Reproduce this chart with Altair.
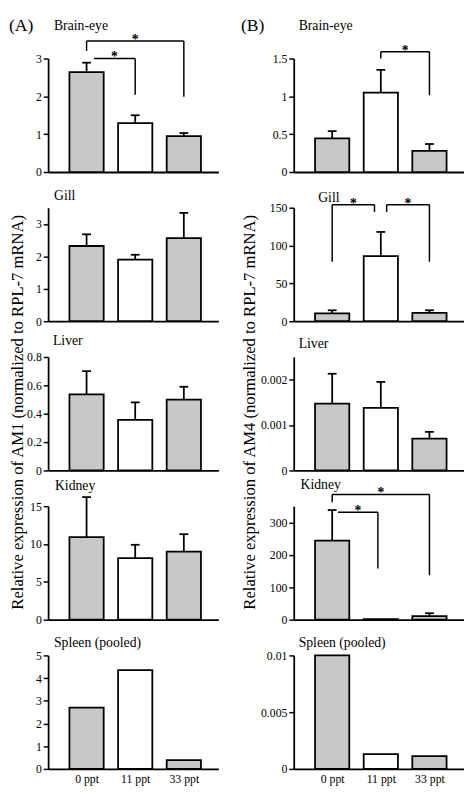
import json
import altair as alt
import pandas as pd

SERIF = "Liberation Serif"

# ---------------- data ----------------
groups = ["0 ppt", "11 ppt", "33 ppt"]
group_pos = [0, 1, 2]
bar_fill = ["#c8c8c8", "#ffffff", "#c8c8c8"]
tissues = ["Brain-eye", "Gill", "Liver", "Kidney", "Spleen (pooled)"]

am1_mean = [
    [2.64, 1.29, 0.95],
    [2.32, 1.90, 2.56],
    [0.536, 0.357, 0.500],
    [10.9, 8.15, 9.0],
    [2.70, 4.35, 0.39],
]
am1_sem = [
    [0.25, 0.21, 0.08],
    [0.36, 0.15, 0.78],
    [0.164, 0.123, 0.090],
    [5.3, 1.75, 2.3],
    None,
]
am1_axis_max = [3, 3.5, 0.8, 15, 5]
am1_ticks = [[0, 1, 2, 3], [0, 1, 2, 3], [0, 0.2, 0.4, 0.6, 0.8],
             [0, 5, 10, 15], [0, 1, 2, 3, 4, 5]]

am4_mean = [
    [0.445, 1.05, 0.28],
    [10.5, 86.0, 11.0],
    [0.00147, 0.00138, 0.00070],
    [244, 1.5, 11],
    [0.0100, 0.00131, 0.00112],
]
am4_sem = [
    [0.095, 0.30, 0.09],
    [4.0, 32.0, 3.5],
    [0.00066, 0.00057, 0.00015],
    [94, 0.0, 9],
    None,
]
am4_axis_max = [1.5, 150, 0.0025, 350, 0.01]
am4_ticks = [[0, 0.5, 1, 1.5], [0, 50, 100, 150], [0, 0.001, 0.002],
             [0, 100, 200, 300], [0, 0.005, 0.01]]

# significance brackets:
# (tissue, from group, to group, from shift, to shift, height, left drop end, right drop end)
am1_brackets = [
    (0, 0, 2, 0.0, 0.0, 3.46, 3.20, 1.99),
    (0, 0, 1, 0.15, 0.0, 3.00, None, 2.04),
]
am4_brackets = [
    (0, 1, 2, 0.0, 0.0, 1.59, 1.50, 1.015),
    (1, 0, 1, 0.0, -0.13, 154, 78.6, 144.5),
    (1, 1, 2, 0.12, 0.0, 154, 144.5, 78.6),
    (3, 0, 2, 0.0, 0.0, 386, 362, 137),
    (3, 0, 1, 0.12, -0.06, 331, None, 158),
]

am1_ylabel = "Relative expression of AM1 (normalized to RPL-7 mRNA)"
am4_ylabel = "Relative expression of AM4 (normalized to RPL-7 mRNA)"

# ---------------- layout / style ----------------
PANEL_H = 116
GAP_V = 36.5
W_A = 174
W_B = 174
XDOM = [-0.69, 2.61]
LINE = 1.8
YTITLE_Y = 361
# (title offset, title dx) per panel
am1_title_pos = [(-6.5, 6), (-2, 6), (-4, 5), (-4, 7), (-7, 6)]
am4_title_pos = [(4.5, 5), (-15, 25), (-1, 5), (-12, 7), (-7, 5)]

label_expr = json.dumps(groups) + "[datum.value]"


def x_axis(show):
    kw = dict(values=group_pos, domainColor="black", domainWidth=LINE,
              grid=False, ticks=False, title=None)
    if show:
        kw.update(labelExpr=label_expr, labelFont=SERIF, labelFontSize=12,
                  labelColor="black", labelPadding=5, labelFlush=False)
    else:
        kw.update(labels=False)
    return alt.Axis(**kw)


def y_axis(ticks, title, title_x):
    kw = dict(values=ticks, format="~r", labelFont=SERIF, labelFontSize=12,
              labelColor="black", labelPadding=2, tickSize=5, tickWidth=1.5,
              tickColor="black", domainColor="black", domainWidth=LINE,
              grid=False)
    if title:
        kw.update(title=title, titleFont=SERIF, titleFontSize=17,
                  titleFontWeight="normal", titleColor="black", titleAngle=270,
                  titleAlign="center", titleBaseline="middle", titleX=title_x,
                  titleY=YTITLE_Y)
    else:
        kw["title"] = None
    return alt.Axis(**kw)


def make_panel(i, means, sems, axis_max, ticks, brackets, width, title_pos,
               ylabel, ylabel_x):
    x_enc = alt.X("x:Q", scale=alt.Scale(domain=XDOM, nice=False, zero=False),
                  axis=x_axis(i == 4))
    y_enc = alt.Y("y:Q", scale=alt.Scale(domain=[0, axis_max[i]], nice=False,
                                         zero=True),
                  axis=y_axis(ticks[i], ylabel if i == 0 else None, ylabel_x))

    bars_df = pd.DataFrame({"x": group_pos, "y": means[i], "fill": bar_fill,
                            "group": groups})
    layers = [
        alt.Chart(bars_df).mark_bar(size=35, stroke="black", strokeWidth=LINE,
                                    orient="vertical")
        .encode(x=x_enc, y=y_enc, color=alt.Color("fill:N", scale=None))
    ]
    if sems[i] is not None:
        err_df = pd.DataFrame({
            "x": group_pos, "y": means[i],
            "y2": [m + s for m, s in zip(means[i], sems[i])],
        })
        err_df = err_df[err_df["y2"] > err_df["y"]]
        cap_df = pd.DataFrame({"x": err_df["x"], "y": err_df["y2"]})
        layers.append(alt.Chart(err_df).mark_rule(color="black", strokeWidth=LINE)
                      .encode(x=x_enc, y=y_enc, y2="y2:Q"))
        layers.append(alt.Chart(cap_df).mark_tick(orient="horizontal", size=9,
                                                  thickness=LINE, color="black",
                                                  opacity=1)
                      .encode(x=x_enc, y=y_enc))

    br = [b for b in brackets if b[0] == i]
    if br:
        h_rows, d_rows, s_rows = [], [], []
        for _, g1, g2, s1, s2, hgt, dl, dr in br:
            xa, xb = g1 + s1, g2 + s2
            h_rows.append({"x": xa, "x2": xb, "y": hgt})
            if dl is not None:
                d_rows.append({"x": xa, "y": hgt, "y2": dl})
            if dr is not None:
                d_rows.append({"x": xb, "y": hgt, "y2": dr})
            s_rows.append({"x": (xa + xb) / 2, "y": hgt, "t": "*"})
        layers.append(alt.Chart(pd.DataFrame(h_rows)).mark_rule(color="black", strokeWidth=1.5)
                      .encode(x=x_enc, x2="x2:Q", y=y_enc))
        layers.append(alt.Chart(pd.DataFrame(d_rows)).mark_rule(color="black", strokeWidth=1.5)
                      .encode(x=x_enc, y=y_enc, y2="y2:Q"))
        layers.append(alt.Chart(pd.DataFrame(s_rows)).mark_text(
            font=SERIF, fontSize=14, fontWeight="bold", dy=3,
            baseline="alphabetic", align="center",
            color="black").encode(x=x_enc, y=y_enc, text="t:N"))

    off, dx = title_pos[i]
    return alt.layer(*layers).properties(
        width=width, height=PANEL_H,
        title=alt.TitleParams(tissues[i], anchor="start", frame="group",
                              offset=off, dx=dx, fontSize=14, font=SERIF,
                              fontWeight="normal", color="black",
                              baseline="middle"),
    )


col_a = alt.vconcat(
    *[make_panel(i, am1_mean, am1_sem, am1_axis_max, am1_ticks, am1_brackets,
                 W_A, am1_title_pos, am1_ylabel, -31) for i in range(5)],
    spacing=GAP_V, bounds="flush",
    title=alt.TitleParams("(A)", anchor="start", frame="bounds", offset=-25,
                          fontSize=18, font=SERIF, fontWeight="normal",
                          color="black", baseline="middle"),
)
col_b = alt.vconcat(
    *[make_panel(i, am4_mean, am4_sem, am4_axis_max, am4_ticks, am4_brackets,
                 W_B, am4_title_pos, am4_ylabel, -45) for i in range(5)],
    spacing=GAP_V, bounds="flush",
    title=alt.TitleParams("(B)", anchor="start", frame="bounds", offset=-25,
                          fontSize=18, font=SERIF, fontWeight="normal",
                          color="black", baseline="middle"),
)

chart = (
    alt.hconcat(col_a, col_b, spacing=22)
    .properties(padding=0, background="white")
    .configure(font=SERIF)
    .configure_axis(labelFont=SERIF, titleFont=SERIF)
    .configure_title(font=SERIF)
    .configure_view(stroke=None)
)

chart.save("out.html", embed_options={"renderer": "svg", "actions": False})
